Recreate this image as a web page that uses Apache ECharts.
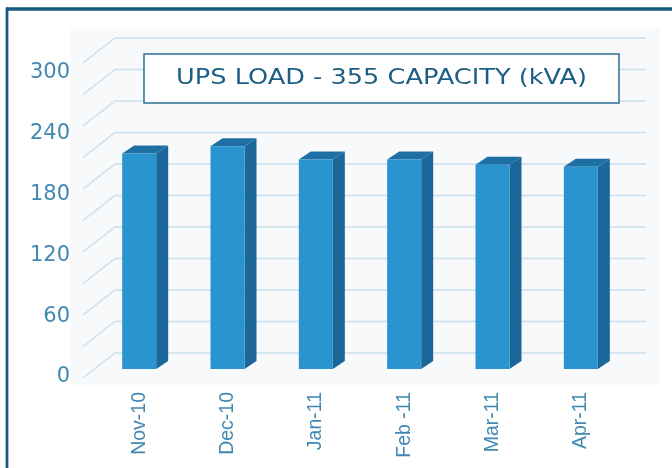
<!DOCTYPE html>
<html>
<head>
<meta charset="utf-8">
<script src="https://cdn.jsdelivr.net/npm/echarts@6/dist/echarts.min.js"></script>
<style>
  html, body { margin: 0; padding: 0; background: #fff; }
  #main { width: 672px; height: 468px; }
</style>
</head>
<body>
<div id="main"></div>
<script>
// data
var months = ['Nov-10', 'Dec-10', 'Jan-11', 'Feb -11', 'Mar-11', 'Apr-11'];
var loadKva = [212, 219, 206, 206, 201, 199];
var yTicks = [0, 60, 120, 180, 240, 300];
var wallTicks = [0, 30, 60, 90, 120, 150, 180, 210, 240, 270, 300];
var titleText = 'UPS LOAD - 355 CAPACITY (kVA)';

var labelColor = '#4189b2';
var frameColor = '#17597f';
var frontColor = '#2a94d1';
var sideColor = '#1b679a';
var topColor = '#1e70a4';

var chart = echarts.init(document.getElementById('main'));

// 3d looking bar: front face, side face, top face
function renderBar(params, api) {
  var top = api.coord([api.value(0), api.value(1)]);
  var base = api.coord([api.value(0), 0]);
  var w = api.size([1, 0])[0] * 0.385;
  var xl = top[0] - w / 2, xr = top[0] + w / 2;
  var dx = 12, dy = 8;
  return {
    type: 'group',
    children: [
      { type: 'polygon', shape: { points: [[xr, top[1]], [xr + dx, top[1] - dy], [xr + dx, base[1] - dy], [xr, base[1]]] }, style: { fill: sideColor } },
      { type: 'polygon', shape: { points: [[xl, top[1]], [xl + dx, top[1] - dy], [xr + dx, top[1] - dy], [xr, top[1]]] }, style: { fill: topColor } },
      { type: 'rect', shape: { x: xl, y: top[1], width: w, height: base[1] - top[1] }, style: { fill: frontColor } }
    ]
  };
}

// back wall line + side wall diagonal
function renderWall(params, api) {
  var p0 = api.coord([0, api.value(1)]);
  var p1 = api.coord([1, api.value(1)]);
  return {
    type: 'polyline',
    shape: { points: [[p0[0] - 32, p0[1] + 25], p0, p1] },
    style: { fill: null, stroke: '#c8dfec', lineWidth: 1.3 }
  };
}

chart.setOption({
  animation: false,
  backgroundColor: '#fff',
  grid: [
    { left: 95, right: 47, top: 64, bottom: 99 },
    { left: 115, right: 26, top: 38, bottom: 115 },
    { left: 95, right: 47, top: 73, bottom: 91 }
  ],
  xAxis: [
    {
      gridIndex: 0, type: 'category', data: months,
      axisLine: { show: false }, axisTick: { show: false },
      axisLabel: { rotate: 90, margin: 23, fontSize: 19.5, color: labelColor, fontFamily: 'Liberation Sans' }
    },
    { gridIndex: 1, type: 'value', min: 0, max: 1, show: false },
    { gridIndex: 2, type: 'value', min: 0, max: 1, show: false }
  ],
  yAxis: [
    { gridIndex: 0, type: 'value', min: 0, max: 300, show: false },
    { gridIndex: 1, type: 'value', min: 0, max: 300, show: false },
    {
      // tick labels sit a little below the bar scale, like the picture
      gridIndex: 2, type: 'value', min: 0, max: yTicks[yTicks.length - 1], interval: 60,
      splitLine: { show: false }, axisLine: { show: false }, axisTick: { show: false },
      axisLabel: { margin: 25, fontSize: 21, color: labelColor, fontFamily: 'DejaVu Sans' }
    }
  ],
  graphic: [
    { type: 'rect', z: -10, shape: { x: 70, y: 28, width: 590, height: 357 }, style: { fill: '#f8f9fb' } },
    { type: 'line', shape: { x1: 6, y1: 9, x2: 672, y2: 9 }, style: { stroke: frameColor, lineWidth: 3.5 } },
    { type: 'line', shape: { x1: 7, y1: 7.5, x2: 7, y2: 468 }, style: { stroke: frameColor, lineWidth: 2.8 } },
    { type: 'rect', z: 100, shape: { x: 144, y: 54, width: 475, height: 49 }, style: { fill: '#fff', stroke: '#2a6f94', lineWidth: 1.5 } },
    {
      type: 'text', z: 101, x: 381.5, y: 79, scaleX: 1.22,
      style: { text: titleText, x: 0, y: 0, align: 'center', verticalAlign: 'middle', fill: '#1d5f84', font: '21px "DejaVu Sans"' }
    }
  ],
  series: [
    {
      type: 'custom', xAxisIndex: 1, yAxisIndex: 1, z: 1,
      data: wallTicks.map(function (v) { return [0, v]; }),
      renderItem: renderWall
    },
    {
      type: 'custom', xAxisIndex: 0, yAxisIndex: 0, z: 5,
      data: loadKva.map(function (v, i) { return [i, v]; }),
      encode: { x: 0, y: 1 },
      renderItem: renderBar
    }
  ]
});
</script>
</body>
</html>
